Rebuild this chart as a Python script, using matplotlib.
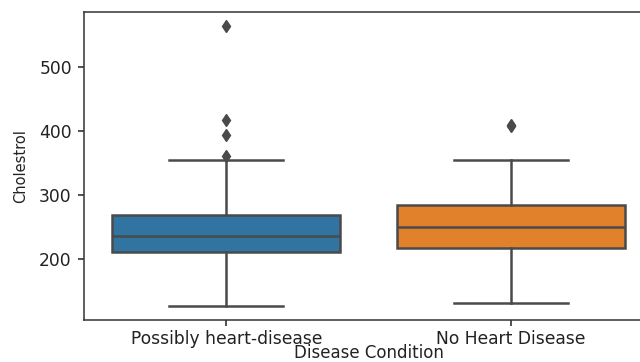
import matplotlib
matplotlib.use("Agg")
import matplotlib.pyplot as plt

# Cholesterol distribution per disease condition
categories = ["Possibly heart-disease", "No Heart Disease"]
q1 = [210, 217]
median = [235, 250]
q3 = [268, 284]
whislo = [126, 131]
whishi = [354, 354]
fliers = [[564, 417, 394, 360], [407, 409]]
colors = ["#3274a1", "#e1812c"]

stats = []
for i, name in enumerate(categories):
    stats.append({
        "label": name,
        "q1": q1[i],
        "med": median[i],
        "q3": q3[i],
        "whislo": whislo[i],
        "whishi": whishi[i],
        "fliers": fliers[i],
    })

gray = "#4a4a4a"
lw = 1.8

fig = plt.figure(figsize=(6.4, 3.62), dpi=100)
ax = fig.add_axes([84 / 640, 1 - 320 / 362, 569 / 640, 308 / 362])

bp = ax.bxp(
    stats,
    positions=range(len(categories)),
    widths=0.8,
    patch_artist=True,
    boxprops=dict(edgecolor=gray, linewidth=lw),
    medianprops=dict(color=gray, linewidth=lw),
    whiskerprops=dict(color=gray, linewidth=lw),
    capprops=dict(color=gray, linewidth=lw),
    flierprops=dict(marker="d", markersize=6.5, markerfacecolor=gray,
                    markeredgecolor=gray, linestyle="none"),
)
for box, c in zip(bp["boxes"], colors):
    box.set_facecolor(c)

ax.set_xlim(-0.5, 1.5)
lo = min(whislo)
hi = max(max(f) for f in fliers)
pad = (hi - lo) * 0.05
ax.set_ylim(lo - pad, hi + pad)
ax.set_yticks([200, 300, 400, 500])
ax.set_xticks(range(len(categories)))
ax.set_xticklabels(categories)

ax.tick_params(labelsize=12.3, length=4.5, width=1.1, pad=4.3, colors="#222222")
ax.tick_params(axis="x", pad=3.0)
for s in ax.spines.values():
    s.set_linewidth(1.1)
    s.set_color("#333333")

ax.set_xlabel("Disease Condition", fontsize=12, labelpad=-3, color="#222222")
ax.set_ylabel("Cholestrol", fontsize=10.5, labelpad=8, color="#222222")

fig.savefig("out.png", dpi=100)
